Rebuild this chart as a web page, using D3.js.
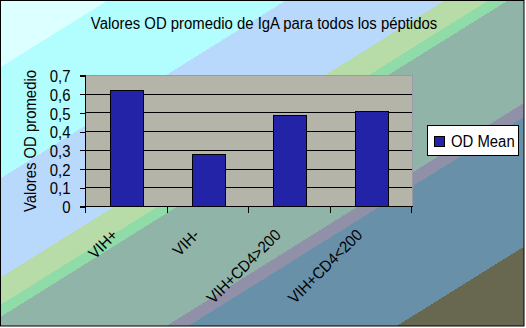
<!DOCTYPE html>
<html>
<head>
<meta charset="utf-8">
<script src="https://cdn.jsdelivr.net/npm/d3@7"></script>
<style>
  html, body { margin: 0; padding: 0; background: #ffffff; }
  svg { display: block; }
  text { font-family: "Liberation Sans", Arial, sans-serif; fill: #000; }
</style>
</head>
<body>
<div id="chart"></div>
<script>
// ---- data ----
const categories = ["VIH+", "VIH-", "VIH+CD4>200", "VIH+CD4<200"];
const odMean = [0.62, 0.276, 0.485, 0.506];
const yTicks = [0, 0.1, 0.2, 0.3, 0.4, 0.5, 0.6, 0.7];
const seriesName = "OD Mean";
const titleText = "Valores OD promedio de IgA para todos los péptidos";
const yTitleText = "Valores OD promedio";

// ---- background bands (style) ----
const bandStops = [
  [0.000, "#dcffff"],
  [0.206, "#b2fdfd"],
  [0.545, "#b8d8fc"],
  [0.847, "#b8dca8"],
  [0.930, "#90dca8"],
  [0.967, "#90b4a8"],
  [1.310, "#9090a8"],
  [1.352, "#6890a8"],
  [1.748, "#686850"],
  [2.000, null]
];

const W = 526, H = 328;
const FS = 16, SX = 0.93; // font size and horizontal squeeze
const svg = d3.select("#chart").append("svg").attr("width", W).attr("height", H);

const defs = svg.append("defs");
const s = 2 / (H / W + W / H);
const grad = defs.append("linearGradient")
  .attr("id", "bg").attr("gradientUnits", "userSpaceOnUse")
  .attr("x1", 0).attr("y1", 0).attr("x2", s * H).attr("y2", s * W);
for (let i = 0; i < bandStops.length - 1; i++) {
  const [t0, c] = bandStops[i];
  const t1 = bandStops[i + 1][0];
  grad.append("stop").attr("offset", t0 / 2).attr("stop-color", c);
  grad.append("stop").attr("offset", t1 / 2).attr("stop-color", c);
}

svg.append("rect").attr("width", W).attr("height", H).attr("fill", "#ffffff");
svg.append("rect").attr("x", 0.5).attr("y", 0.5).attr("width", 523.5).attr("height", 325.5)
  .attr("fill", "url(#bg)").attr("stroke", "#000").attr("stroke-width", 1);

// ---- plot ----
const plot = { left: 86, right: 412, top: 75, bottom: 206 };
const x = d3.scaleBand().domain(categories).range([plot.left, plot.right])
  .paddingInner(0.6).paddingOuter(0.3);
const y = d3.scaleLinear().domain([0, 0.7]).range([plot.bottom, plot.top]);

const g = svg.append("g").attr("shape-rendering", "crispEdges");
g.append("rect").attr("x", plot.left).attr("y", plot.top)
  .attr("width", plot.right - plot.left).attr("height", plot.bottom - plot.top)
  .attr("fill", "#b4b4a8");

// gridlines
g.selectAll("line.grid").data(yTicks.filter(v => v > 0 && v < 0.7)).enter().append("line")
  .attr("x1", plot.left).attr("x2", plot.right)
  .attr("y1", d => Math.round(y(d)) + 0.5).attr("y2", d => Math.round(y(d)) + 0.5)
  .attr("stroke", "#000");

// plot border top/right (grey)
g.append("path")
  .attr("d", `M${plot.left},${plot.top + 0.5}H${plot.right + 0.5}V${plot.bottom}`)
  .attr("fill", "none").attr("stroke", "#9a9aa6");

// bars
g.selectAll("rect.bar").data(odMean).enter().append("rect")
  .attr("x", (d, i) => Math.round(x(categories[i])) + 0.5)
  .attr("width", Math.round(x.bandwidth()))
  .attr("y", d => Math.round(y(d)) + 0.5)
  .attr("height", d => Math.round(y(0)) - Math.round(y(d)))
  .attr("fill", "#2323a8").attr("stroke", "#000");

// y axis
const yAxis = d3.axisLeft(y).tickValues(yTicks).tickSize(6).tickPadding(9)
  .tickFormat(v => v === 0 ? "0" : d3.format(".1f")(v).replace(".", ","));
const ya = svg.append("g").attr("transform", `translate(${plot.left - 0.5},0.5)`)
  .attr("shape-rendering", "crispEdges").call(yAxis);
ya.select(".domain").attr("d", `M-6,${plot.top}H0V${plot.bottom}`).attr("stroke", "#000");
ya.selectAll("text").attr("font-size", FS).attr("font-family", "\"Liberation Sans\", Arial, sans-serif")
  .attr("fill", "#000").attr("dy", "0.38em");
ya.selectAll("line").attr("stroke", "#000");

// x axis line and ticks at category boundaries
const bounds = categories.map(c => x(c) - x.step() * x.paddingInner() / 2).concat([plot.right]);
const xg = svg.append("g").attr("shape-rendering", "crispEdges");
xg.append("line").attr("x1", plot.left - 6).attr("x2", plot.right + 1)
  .attr("y1", plot.bottom + 0.5).attr("y2", plot.bottom + 0.5).attr("stroke", "#000");
xg.selectAll("line.tk").data(bounds).enter().append("line")
  .attr("x1", d => Math.round(d) - 0.5).attr("x2", d => Math.round(d) - 0.5)
  .attr("y1", plot.bottom).attr("y2", plot.bottom + 7).attr("stroke", "#000");

// x labels rotated
svg.selectAll("text.xl").data(categories).enter().append("text")
  .attr("class", "sq")
  .attr("transform", c => `translate(${x(c) + x.bandwidth() / 2 - 8},236) rotate(-45)`)
  .attr("text-anchor", "end").attr("font-size", FS)
  .text(c => c);

// titles
svg.append("text").attr("class", "sq").attr("x", 264).attr("y", 28.5).attr("text-anchor", "middle")
  .attr("font-size", FS).text(titleText);
svg.append("text").attr("class", "sq").attr("transform", "translate(36,141) rotate(-90)")
  .attr("text-anchor", "middle").attr("font-size", FS).text(yTitleText);

// legend
const lg = svg.append("g").attr("shape-rendering", "crispEdges");
lg.append("rect").attr("x", 427.5).attr("y", 125.5).attr("width", 91).attr("height", 30)
  .attr("fill", "#fff").attr("stroke", "#000");
lg.append("rect").attr("x", 434.5).attr("y", 136.5).attr("width", 10).attr("height", 10)
  .attr("fill", "#2323a8").attr("stroke", "#000");
lg.append("text").attr("class", "sq").attr("x", 451).attr("y", 146.5).attr("font-size", FS).text(seriesName);

// squeeze text horizontally to mimic the narrow rendering of the original
svg.selectAll("text.sq, .tick text").each(function () {
  const len = this.getComputedTextLength();
  d3.select(this).attr("textLength", len * SX).attr("lengthAdjust", "spacingAndGlyphs");
});
</script>
</body>
</html>
